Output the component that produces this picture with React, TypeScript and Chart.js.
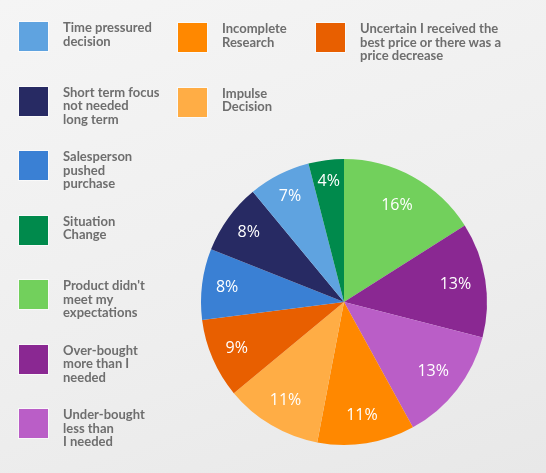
import React, { useEffect, useRef } from 'react';
import { Chart, registerables, Plugin } from 'chart.js';

Chart.register(...registerables);

// slices, clockwise from 12 o'clock
const sliceLabels = [
  "Product didn't meet my expectations",
  'Over-bought more than I needed',
  'Under-bought less than I needed',
  'Incomplete Research',
  'Impulse Decision',
  'Uncertain I received the best price or there was a price decrease',
  'Salesperson pushed purchase',
  'Short term focus not needed long term',
  'Time pressured decision',
  'Situation Change',
];
const sliceValues = [16, 13, 13, 11, 11, 9, 8, 8, 7, 4];
const sliceColors = [
  '#72d05c',
  '#8a2892',
  '#ba5ec7',
  '#ff8800',
  '#ffad45',
  '#e85f00',
  '#3a80d4',
  '#272a63',
  '#5fa3e0',
  '#008a4c',
];

// legend, column by column, as slice indexes
const legendColumns = [
  [8, 7, 6, 9, 0, 1, 2],
  [3, 4],
  [5],
];
// the legend wraps its text by hand, the way the picture does
const legendLines: Record<number, string[]> = {
  0: ["Product didn't", 'meet my', 'expectations'],
  1: ['Over-bought', 'more than I', 'needed'],
  2: ['Under-bought', 'less than', 'I needed'],
  3: ['Incomplete', 'Research'],
  4: ['Impulse', 'Decision'],
  5: ['Uncertain I received the', 'best price or there was a', 'price decrease'],
  6: ['Salesperson', 'pushed', 'purchase'],
  7: ['Short term focus', 'not needed', 'long term'],
  8: ['Time pressured', 'decision'],
  9: ['Situation', 'Change'],
};

const COL_X = [19, 178, 316];
const ROW_Y0 = 22;
const ROW_STEP = 64.5;

const percentLabels: Plugin<'pie'> = {
  id: 'percentLabels',
  afterDatasetsDraw(chart) {
    const { ctx } = chart;
    const meta = chart.getDatasetMeta(0);
    ctx.save();
    ctx.fillStyle = '#ffffff';
    ctx.font = '400 16px "Open Sans"';
    ctx.textAlign = 'center';
    ctx.textBaseline = 'middle';
    meta.data.forEach((el: any, i) => {
      const { x, y, startAngle, endAngle, outerRadius } = el.getProps(
        ['x', 'y', 'startAngle', 'endAngle', 'outerRadius'],
        true
      );
      const mid = (startAngle + endAngle) / 2;
      const v = sliceValues[i];
      const r = outerRadius * (0.88 - 0.007 * v);
      ctx.fillText(v + '%', x + Math.cos(mid) * r, y + Math.sin(mid) * r);
    });
    ctx.restore();
  },
};

const App: React.FC = () => {
  const canvasRef = useRef<HTMLCanvasElement | null>(null);

  useEffect(() => {
    if (!canvasRef.current) return;
    const chart = new Chart(canvasRef.current, {
      type: 'pie',
      data: {
        labels: sliceLabels,
        datasets: [
          {
            data: sliceValues,
            backgroundColor: sliceColors,
            borderWidth: 0,
          },
        ],
      },
      options: {
        responsive: false,
        animation: false,
        layout: { padding: { left: 201, right: 59, top: 159, bottom: 28 } },
        plugins: {
          legend: { display: false },
          tooltip: { enabled: false },
        },
      },
      plugins: [percentLabels],
    });
    return () => chart.destroy();
  }, []);

  return (
    <div
      style={{
        position: 'fixed',
        left: 0,
        top: 0,
        width: 546,
        height: 473,
        background: 'linear-gradient(160deg, #f5f5f5 0%, #eeeeee 60%, #e8e8e8 100%)',
        fontFamily: 'Lato, sans-serif',
      }}
    >
      <canvas
        ref={canvasRef}
        width={546}
        height={473}
        style={{ position: 'absolute', left: 0, top: 0, width: 546, height: 473 }}
      />
      {legendColumns.map((col, c) =>
        col.map((idx, r) => (
          <div
            key={idx}
            style={{
              position: 'absolute',
              left: COL_X[c],
              top: ROW_Y0 + r * ROW_STEP + (c > 0 ? 1 : 0),
              display: 'flex',
              alignItems: 'flex-start',
            }}
          >
            <div
              style={{
                width: 29,
                height: 29,
                background: sliceColors[idx],
                boxShadow: '0 0 0 1px rgba(255,255,255,0.6)',
              }}
            />
            <div
              style={{
                marginLeft: 15,
                marginTop: -1,
                fontSize: 13,
                lineHeight: '13.5px',
                fontWeight: 700,
                color: '#6e6e6e',
                whiteSpace: 'nowrap',
              }}
            >
              {legendLines[idx].map((line, k) => (
                <div key={k}>{line}</div>
              ))}
            </div>
          </div>
        ))
      )}
    </div>
  );
};

export default App;
